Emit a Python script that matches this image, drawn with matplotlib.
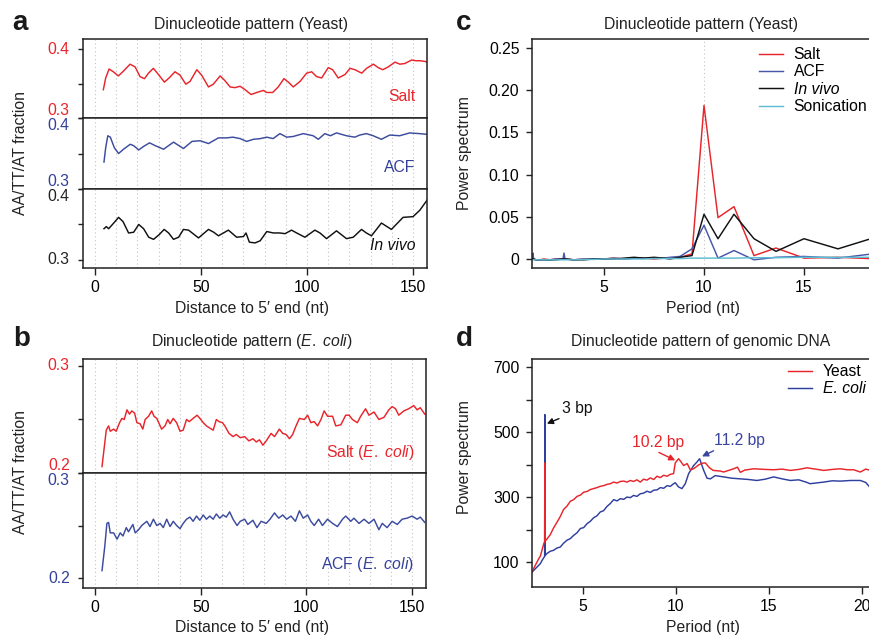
import matplotlib
matplotlib.use("Agg")
import matplotlib.pyplot as plt
import numpy as np

plt.rcParams["font.family"] = ["Liberation Sans", "DejaVu Sans"]
plt.rcParams["mathtext.fontset"] = "custom"
plt.rcParams["mathtext.rm"] = "Liberation Sans"
plt.rcParams["mathtext.it"] = "Liberation Sans:italic"
plt.rcParams["font.size"] = 11.3

RED = "#e8252b"
BLUE = "#3c4b9e"
BLUE_TXT = "#33409a"
BLACK = "#111111"
SPINE = "#222222"
SONIC = "#5dbcd2"
GRID = "#c4c4c4"

# ---- panel a: yeast, distance to 5' end ----
salt_a_x = [3.9, 5.0, 6.6, 8.6, 11.0, 13.4, 16.5, 18.9, 21.2, 23.3, 25.2, 27.5, 29.9, 32.7, 34.9,
            37.7, 40.1, 42.8, 44.8, 48.0, 50.3, 53.5, 55.8, 59.0, 61.3, 63.7, 66.0, 68.4, 70.8, 73.6,
            76.3, 79.4, 80.9, 83.8, 86.4, 89.1, 91.2, 93.5, 96.7, 99.8, 102.2, 104.5, 106.9, 110.0,
            112.1, 114.7, 117.9, 120.3, 122.6, 125.8, 128.1, 131.3, 133.6, 135.7, 138.3, 141.5,
            143.8, 146.2, 149.3, 151.4, 153.3, 155.6, 156.8]
salt_a_y = [0.341, 0.358, 0.371, 0.367, 0.361, 0.368, 0.378, 0.374, 0.360, 0.357, 0.365, 0.372, 0.363,
            0.352, 0.358, 0.367, 0.362, 0.349, 0.353, 0.370, 0.362, 0.345, 0.349, 0.361, 0.354, 0.345,
            0.344, 0.346, 0.341, 0.334, 0.337, 0.340, 0.337, 0.337, 0.345, 0.357, 0.352, 0.345, 0.353,
            0.365, 0.367, 0.360, 0.358, 0.373, 0.370, 0.358, 0.363, 0.372, 0.370, 0.365, 0.372, 0.378,
            0.373, 0.370, 0.374, 0.381, 0.378, 0.379, 0.384, 0.383, 0.383, 0.382, 0.381]

acf_a_x = [4.2, 5.0, 6.0, 7.2, 9.1, 11.1, 13.4, 16.6, 18.2, 20.6, 22.9, 25.7, 28.4, 32.3, 37.0, 41.7,
           45.7, 49.6, 53.5, 58.2, 62.1, 65.0, 68.4, 71.5, 74.7, 78.0, 81.0, 84.0, 87.2, 90.4, 93.5,
           98.2, 102.9, 105.3, 108.4, 111.0, 113.9, 118.6, 122.5, 124.9, 128.0, 131.2, 135.1, 139.0,
           143.7, 148.4, 153.0, 156.8]
acf_a_y = [0.338, 0.358, 0.375, 0.373, 0.358, 0.350, 0.356, 0.363, 0.361, 0.355, 0.360, 0.365, 0.361,
           0.356, 0.366, 0.357, 0.367, 0.368, 0.364, 0.372, 0.372, 0.373, 0.371, 0.367, 0.370, 0.371,
           0.373, 0.371, 0.378, 0.373, 0.374, 0.378, 0.375, 0.370, 0.378, 0.375, 0.379, 0.375, 0.373,
           0.376, 0.378, 0.375, 0.370, 0.376, 0.375, 0.379, 0.378, 0.377]

vivo_a_x = [4.2, 5.3, 6.4, 8.8, 11.1, 13.2, 15.8, 18.2, 20.6, 22.9, 25.3, 27.6, 30.0, 32.6, 34.7, 37.0,
            39.4, 41.7, 44.1, 48.8, 53.5, 56.0, 58.2, 62.9, 66.8, 70.0, 71.2, 72.8, 75.5, 77.9, 81.0,
            84.1, 87.2, 89.6, 92.7, 95.1, 99.0, 103.7, 106.1, 109.2, 113.9, 118.6, 121.8, 125.7, 128.0,
            130.4, 135.1, 139.8, 145.3, 150.0, 153.2, 156.8]
vivo_a_y = [0.344, 0.347, 0.344, 0.352, 0.360, 0.354, 0.338, 0.339, 0.350, 0.344, 0.332, 0.329, 0.335,
            0.343, 0.338, 0.329, 0.332, 0.343, 0.342, 0.331, 0.343, 0.339, 0.334, 0.342, 0.332, 0.333,
            0.338, 0.325, 0.324, 0.327, 0.340, 0.338, 0.338, 0.337, 0.342, 0.338, 0.332, 0.342, 0.338,
            0.330, 0.341, 0.330, 0.332, 0.343, 0.338, 0.334, 0.352, 0.343, 0.360, 0.361, 0.370, 0.385]

# ---- panel b: E. coli ----
salt_b_x = [3.3, 5.3, 6.4, 7.2, 8.8, 10.0, 11.6, 12.7, 13.8, 15.1, 16.3, 17.4, 18.7, 19.8, 21.3, 22.6,
            23.7, 25.3, 26.8, 27.9, 29.2, 31.5, 33.1, 34.4, 35.5, 37.0, 38.6, 40.2, 41.7, 43.3, 44.6,
            46.4, 48.3, 49.6, 51.2, 52.7, 54.3, 55.9, 57.4, 58.7, 60.3, 61.4, 63.4, 65.3, 66.8, 68.7,
            70.8, 72.8, 74.7, 76.3, 77.8, 79.4, 81.0, 83.3, 84.9, 87.2, 88.8, 90.4, 92.0, 93.5, 95.1,
            96.7, 99.0, 100.6, 102.1, 103.7, 105.3, 106.9, 108.4, 110.0, 112.4, 113.9, 116.3, 118.6,
            120.2, 121.8, 124.1, 125.7, 128.0, 129.6, 132.0, 134.3, 136.7, 139.0, 140.6, 142.2, 143.7,
            146.1, 148.4, 150.8, 152.4, 153.9, 156.0]
salt_b_y = [0.206, 0.240, 0.244, 0.239, 0.241, 0.239, 0.247, 0.251, 0.250, 0.259, 0.255, 0.258, 0.256,
            0.247, 0.246, 0.241, 0.250, 0.253, 0.258, 0.253, 0.251, 0.241, 0.244, 0.250, 0.246, 0.251,
            0.247, 0.239, 0.240, 0.250, 0.248, 0.251, 0.254, 0.251, 0.247, 0.244, 0.242, 0.240, 0.250,
            0.248, 0.247, 0.244, 0.237, 0.234, 0.236, 0.233, 0.234, 0.230, 0.232, 0.229, 0.231, 0.226,
            0.230, 0.237, 0.234, 0.241, 0.237, 0.236, 0.232, 0.236, 0.244, 0.251, 0.250, 0.254, 0.247,
            0.248, 0.244, 0.250, 0.258, 0.253, 0.253, 0.244, 0.245, 0.254, 0.254, 0.250, 0.247, 0.253,
            0.260, 0.254, 0.257, 0.250, 0.252, 0.259, 0.262, 0.260, 0.254, 0.258, 0.260, 0.263, 0.259,
            0.261, 0.255]

acf_b_x = [3.3, 4.6, 5.6, 6.4, 7.2, 8.8, 10.4, 11.9, 13.2, 14.8, 15.8, 17.9, 19.0, 20.6, 22.1, 24.5,
           26.0, 27.6, 29.2, 30.8, 32.3, 33.9, 35.5, 37.0, 38.6, 40.2, 41.7, 43.3, 44.9, 46.4, 48.0,
           49.6, 51.2, 52.7, 54.3, 55.9, 57.4, 59.0, 60.6, 62.1, 63.7, 65.3, 67.2, 68.7, 70.8, 72.3,
           74.7, 76.6, 78.6, 81.0, 82.8, 84.9, 86.9, 88.8, 90.7, 92.7, 94.8, 96.7, 98.5, 100.6, 102.1,
           103.7, 105.8, 107.6, 110.0, 112.4, 114.7, 117.1, 118.6, 121.0, 122.5, 124.9, 127.3, 129.6,
           132.0, 134.3, 135.9, 138.2, 140.6, 143.0, 145.3, 147.7, 150.0, 152.4, 153.9, 156.0]
acf_b_y = [0.207, 0.230, 0.252, 0.253, 0.243, 0.243, 0.237, 0.243, 0.240, 0.248, 0.244, 0.251, 0.243,
           0.246, 0.250, 0.254, 0.249, 0.256, 0.250, 0.252, 0.248, 0.256, 0.249, 0.254, 0.250, 0.247,
           0.252, 0.256, 0.258, 0.254, 0.259, 0.255, 0.260, 0.256, 0.259, 0.256, 0.261, 0.257, 0.260,
           0.258, 0.263, 0.256, 0.250, 0.254, 0.256, 0.251, 0.255, 0.248, 0.254, 0.252, 0.256, 0.262,
           0.257, 0.260, 0.256, 0.259, 0.254, 0.264, 0.257, 0.260, 0.254, 0.250, 0.256, 0.250, 0.256,
           0.252, 0.249, 0.256, 0.259, 0.254, 0.257, 0.252, 0.256, 0.252, 0.256, 0.246, 0.252, 0.248,
           0.254, 0.251, 0.256, 0.257, 0.259, 0.256, 0.258, 0.253]

# ---- panel c: power spectrum (yeast) ----
c_period = [1.42, 1.45, 1.48, 1.6, 1.8, 2.0, 2.3, 2.6, 2.95, 3.0, 3.05, 3.5, 4.0, 4.5, 5.0, 5.5,
            6.0, 6.5, 7.0, 7.5, 8.0, 8.3, 8.8, 9.4, 10.0, 10.7, 11.5, 12.5, 13.6, 15.0, 16.7, 18.75]
salt_c = [0.000, 0.000, 0.000, -0.001, -0.001, 0.000, -0.001, 0.000, 0.000, 0.000, 0.000, -0.001,
          0.000, 0.000, 0.000, 0.001, 0.000, 0.001, 0.001, 0.000, 0.001, 0.001, 0.002, 0.006,
          0.182, 0.049, 0.062, 0.004, 0.013, 0.001, 0.002, 0.000]
acf_c = [0.000, 0.007, 0.000, -0.001, -0.001, -0.001, -0.001, 0.000, 0.000, 0.007, 0.000, -0.001,
         0.000, 0.000, 0.000, 0.001, 0.000, 0.001, 0.001, 0.001, 0.001, 0.002, 0.003, 0.012,
         0.040, 0.001, 0.010, -0.001, 0.002, 0.003, 0.001, 0.007]
vivo_c = [0.000, 0.000, 0.000, -0.001, -0.001, -0.001, -0.001, -0.001, 0.000, 0.000, 0.000, -0.001,
          -0.001, 0.000, 0.000, 0.000, 0.001, 0.002, 0.001, 0.002, 0.001, 0.000, 0.002, 0.004,
          0.053, 0.024, 0.053, 0.024, 0.009, 0.024, 0.012, 0.027]
sonic_c = [-0.001, -0.001, -0.001, -0.001, -0.001, -0.001, -0.001, -0.001, -0.001, -0.001, -0.001,
           -0.001, -0.0005, -0.0005, 0.0, 0.0, 0.0, 0.0, 0.0, 0.0005, 0.0005, 0.0005, 0.0005, 0.001,
           0.001, 0.001, 0.001, 0.0015, 0.0015, 0.002, 0.002, 0.002]

# ---- panel d: genomic DNA ----
yeast_x = [2.28, 2.35, 2.62, 2.71, 2.89, 2.94, 2.95, 2.96, 3.03, 3.24, 3.42, 3.60, 3.78, 3.96, 4.14,
           4.32, 4.50, 4.68, 4.86, 5.04, 5.22, 5.39, 5.57, 5.75, 5.93, 6.11, 6.29, 6.47, 6.65, 6.83,
           7.01, 7.19, 7.37, 7.54, 7.72, 7.90, 8.08, 8.26, 8.44, 8.62, 8.80, 8.98, 9.16, 9.34, 9.52,
           9.70, 9.87, 9.96, 10.14, 10.25, 10.41, 10.60, 10.77, 10.95, 11.22, 11.40, 11.58, 11.80,
           12.00, 12.38, 12.56, 13.10, 13.30, 13.46, 13.70, 14.18, 14.80, 15.25, 15.70, 16.15, 16.60,
           17.04, 17.50, 17.94, 18.40, 18.83, 19.20, 19.55, 19.91, 20.20, 20.45]
yeast_y = [70, 80, 110, 118, 156, 162, 405, 165, 168, 184, 205, 222, 240, 262, 272, 287, 292, 302,
           306, 315, 317, 323, 326, 329, 333, 335, 339, 341, 346, 343, 348, 349, 346, 351, 348, 353,
           346, 355, 352, 359, 354, 364, 360, 367, 364, 370, 372, 405, 418, 410, 397, 403, 384, 387,
           399, 404, 405, 390, 382, 380, 377, 387, 392, 376, 383, 387, 385, 384, 386, 382, 385, 390,
           386, 382, 385, 387, 384, 384, 377, 386, 382]

ecoli_x = [2.28, 2.35, 2.71, 2.80, 2.89, 2.94, 2.95, 2.96, 3.06, 3.24, 3.42, 3.60, 3.78, 3.96, 4.14,
           4.32, 4.50, 4.68, 4.86, 5.04, 5.22, 5.39, 5.57, 5.75, 5.93, 6.11, 6.29, 6.47, 6.65, 6.83,
           7.01, 7.19, 7.37, 7.54, 7.72, 7.90, 8.08, 8.26, 8.44, 8.62, 8.80, 8.98, 9.16, 9.34, 9.52,
           9.70, 9.87, 9.96, 10.14, 10.32, 10.50, 10.68, 10.95, 11.13, 11.27, 11.49, 11.67, 11.85,
           12.11, 12.56, 13.00, 13.46, 13.90, 14.35, 14.80, 15.25, 15.70, 16.15, 16.60, 17.04, 17.20,
           17.94, 18.40, 18.83, 19.40, 19.91, 20.20, 20.45]
ecoli_y = [70, 74, 95, 105, 113, 117, 554, 120, 126, 133, 136, 143, 146, 158, 167, 172, 182, 190,
           203, 206, 218, 225, 236, 242, 254, 258, 271, 280, 292, 288, 295, 293, 300, 298, 305, 302,
           310, 312, 318, 314, 321, 322, 329, 327, 335, 333, 341, 344, 331, 326, 341, 372, 397, 408,
           418, 382, 358, 356, 366, 362, 358, 356, 354, 351, 355, 362, 356, 351, 353, 345, 341, 346,
           350, 349, 351, 351, 345, 328]

DIST_TICKS = [0, 50, 100, 150]
W, H = 870, 637
fig = plt.figure(figsize=(W / 100, H / 100), dpi=100)


def add_ax(left, top, right, bottom):
    return fig.add_axes([left / W, 1 - bottom / H, (right - left) / W, (bottom - top) / H])


def style_spines(ax, right=True):
    for s in ax.spines.values():
        s.set_color(SPINE)
        s.set_linewidth(1.1)
    ax.spines["right"].set_visible(right)


def stack_ax(ax, x, y, color, ylim, ticks, labels, vas, tick_color, show_x):
    ax.plot(x, y, color=color, lw=1.05)
    ax.set_yticks(ticks, labels)
    for lbl, va in zip(ax.get_yticklabels(), vas):
        lbl.set_verticalalignment(va)
    ax.tick_params(axis="y", labelcolor=tick_color, length=3.6, width=1, pad=6, color=SPINE)
    ax.set_xticks(DIST_TICKS)
    ax.set_xticks(np.arange(0, 151, 10), minor=True)
    ax.grid(which="both", axis="x", ls=(0, (1, 2.5)), color=GRID, lw=0.8)
    ax.set_axisbelow(True)
    ax.tick_params(axis="x", which="minor", length=0)
    if show_x:
        ax.tick_params(axis="x", length=5, width=1, pad=3.5, color=SPINE)
    else:
        ax.tick_params(axis="x", bottom=False, labelbottom=False)
    ax.set_xlim(-5.7, 156.6)
    ax.set_ylim(*ylim)
    style_spines(ax)


# panel a
a1 = add_ax(83, 39, 427, 118)
a2 = add_ax(83, 118, 427, 189)
a3 = add_ax(83, 189, 427, 268)
stack_ax(a1, salt_a_x, salt_a_y, RED, (0.3, 0.4145), [0.3, 0.35, 0.4], ["0.3", "", "0.4"],
         ["bottom", "center", "center"], RED, False)
stack_ax(a2, acf_a_x, acf_a_y, BLUE, (0.3, 0.4), [0.3, 0.35, 0.4], ["0.3", "", "0.4"],
         ["bottom", "center", "top"], BLUE_TXT, False)
stack_ax(a3, vivo_a_x, vivo_a_y, BLACK, (0.2886, 0.4), [0.3, 0.35, 0.4], ["0.3", "", "0.4"],
         ["center", "center", "top"], "#222222", True)
a1.text(0.966, 0.27, "Salt", transform=a1.transAxes, ha="right", va="center", color=RED)
a2.text(0.966, 0.30, "ACF", transform=a2.transAxes, ha="right", va="center", color=BLUE_TXT)
a3.text(0.966, 0.28, "In vivo", transform=a3.transAxes, ha="right", va="center",
        color=BLACK, style="italic")

# panel b
b1 = add_ax(83, 359, 426, 473)
b2 = add_ax(83, 473, 426, 588)
stack_ax(b1, salt_b_x, salt_b_y, RED, (0.2, 0.3065), [0.2, 0.25, 0.3], ["0.2", "", "0.3"],
         ["bottom", "center", "center"], RED, False)
stack_ax(b2, acf_b_x, acf_b_y, BLUE, (0.1905, 0.3), [0.2, 0.25, 0.3], ["0.2", "", "0.3"],
         ["center", "center", "top"], BLUE_TXT, True)
b1.text(0.966, 0.184, r"Salt ($\mathit{E.\ coli}$)", transform=b1.transAxes, ha="right",
        va="center", color=RED)
b2.text(0.966, 0.20, r"ACF ($\mathit{E.\ coli}$)", transform=b2.transAxes, ha="right",
        va="center", color=BLUE_TXT)

# panel c
ac = add_ax(532, 39, 870, 268)
ac.axvline(10, color=GRID, ls=(0, (1, 2.5)), lw=0.8, zorder=0)
ac.plot(c_period, salt_c, color=RED, lw=1.05, label="Salt")
ac.plot(c_period, acf_c, color="#4657a8", lw=1.05, label="ACF")
ac.plot(c_period, vivo_c, color=BLACK, lw=1.05, label="In vivo")
ac.plot(c_period, sonic_c, color=SONIC, lw=1.05, label="Sonication")
ac.set_xticks([5, 10, 15])
ac.set_yticks([0, 0.05, 0.10, 0.15, 0.20, 0.25], ["0", "0.05", "0.10", "0.15", "0.20", "0.25"])
ac.set_xlim(1.4, 18.3)
ac.set_ylim(-0.0107, 0.2607)
ac.tick_params(axis="y", length=4, width=1, pad=5, color=SPINE)
ac.tick_params(axis="x", length=5.3, width=1, pad=3.5, color=SPINE)
style_spines(ac, right=False)
leg = ac.legend(loc="upper left", bbox_to_anchor=(759 / W, 1 - 47 / H),
                bbox_transform=fig.transFigure, frameon=False, handlelength=1.5,
                handletextpad=0.7, labelspacing=0.15, borderpad=0, borderaxespad=0)
leg.get_texts()[2].set_style("italic")

# panel d
ad = add_ax(532, 359, 870, 587)
l_e, = ad.plot(ecoli_x, ecoli_y, color="#2f3f9f", lw=1.05, label="E. coli")
l_y, = ad.plot(yeast_x, yeast_y, color=RED, lw=1.05, label="Yeast")
ad.set_xticks([5, 10, 15, 20])
ad.set_yticks([100, 200, 300, 400, 500, 600, 700], ["100", "", "300", "", "500", "", "700"])
ad.set_xlim(2.26, 20.43)
ad.set_ylim(23, 725)
ad.tick_params(axis="y", length=4, width=1, pad=5, color=SPINE)
ad.tick_params(axis="x", length=5.3, width=1, pad=3.5, color=SPINE)
style_spines(ad, right=False)
leg_d = ad.legend([l_y, l_e], ["Yeast", "E. coli"], loc="upper left",
                  bbox_to_anchor=(788 / W, 1 - 364 / H), bbox_transform=fig.transFigure,
                  frameon=False, handlelength=1.5, handletextpad=0.7, labelspacing=0.15,
                  borderpad=0, borderaxespad=0)
leg_d.get_texts()[1].set_style("italic")

arrow = dict(arrowstyle="-|>", lw=1.0, mutation_scale=9, shrinkA=0, shrinkB=0)
ad.annotate("3 bp", xy=(3.06, 526), xytext=(4.68, 572), ha="center", va="center", color=BLACK,
            arrowprops=dict(arrow, color=BLACK, relpos=(0.1, 0.0)))
ad.annotate("10.2 bp", xy=(9.96, 413), xytext=(9.05, 469), ha="center", va="center", color=RED,
            arrowprops=dict(arrow, color=RED, relpos=(0.4, 0.0)))
ad.annotate("11.2 bp", xy=(11.4, 425), xytext=(13.42, 474), ha="center", va="center",
            color="#3a45a0", arrowprops=dict(arrow, color="#3a45a0", relpos=(0.1, 0.0)))

# titles, axis labels, panel letters
for x, y, t in [(251, 29.5, "Dinucleotide pattern (Yeast)"),
                (701, 29.5, "Dinucleotide pattern (Yeast)"),
                (252, 346.5, r"Dinucleotide pattern ($\mathit{E.\ coli}$)"),
                (701, 346.5, "Dinucleotide pattern of genomic DNA")]:
    fig.text(x / W, 1 - y / H, t, ha="center", va="baseline", color="#222222")

for x, y, t in [(252, 313, "Distance to 5\u2032 end (nt)"), (703, 313, "Period (nt)"),
                (252, 632, "Distance to 5\u2032 end (nt)"), (703, 632, "Period (nt)")]:
    fig.text(x / W, 1 - y / H, t, ha="center", va="baseline", color="#222222")

for x, y, t in [(21, 153, "AA/TT/AT fraction"), (465, 153, "Power spectrum"),
                (21, 472, "AA/TT/AT fraction"), (465, 457, "Power spectrum")]:
    fig.text(x / W, 1 - y / H, t, ha="center", va="center", rotation=90, color="#222222")

for x, y, t in [(12, 29.5, "a"), (456, 29.5, "c"), (13, 346.5, "b"), (456, 346.5, "d")]:
    fig.text(x / W, 1 - y / H, t, ha="left", va="baseline", fontsize=20, fontweight="bold",
             color="#1a1a1a")

fig.savefig("out.png", dpi=100)
